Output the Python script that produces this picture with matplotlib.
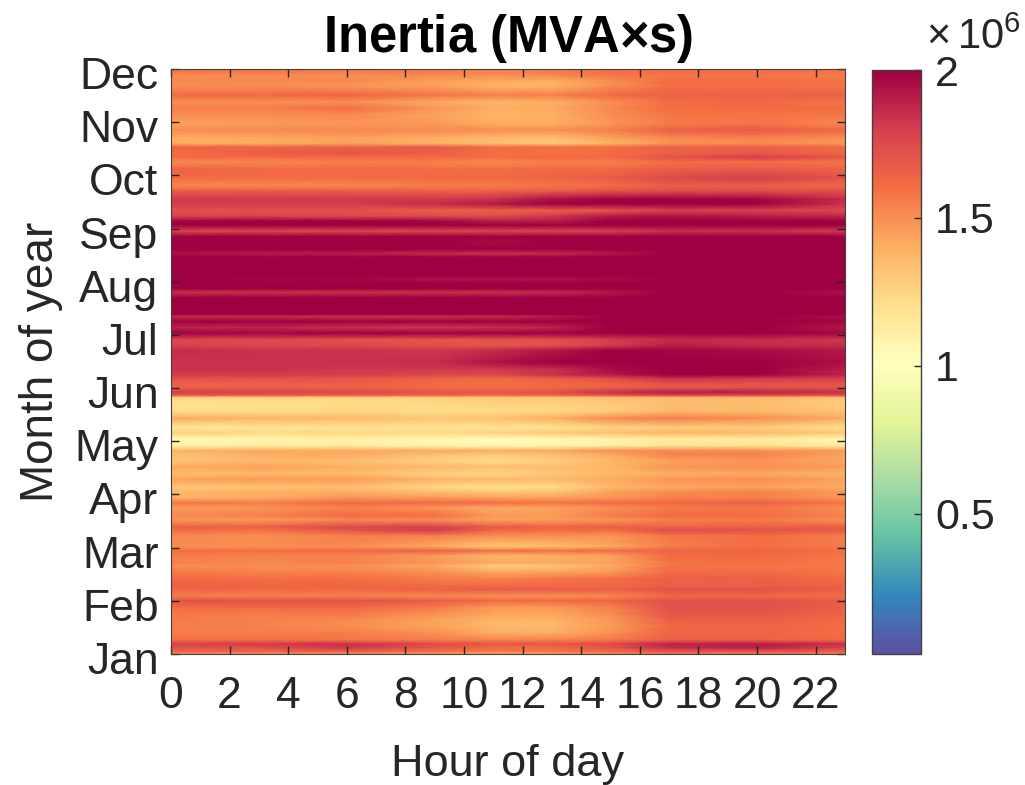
"""Daily inertia heat map, month of year against hour of day."""

import matplotlib
matplotlib.use("Agg")
import matplotlib.pyplot as plt
import matplotlib.transforms as mtransforms
import numpy as np

plt.rcParams["font.family"] = ["Liberation Sans", "DejaVu Sans"]
plt.rcParams["mathtext.fontset"] = "custom"
plt.rcParams["mathtext.rm"] = "Liberation Sans"
plt.rcParams["mathtext.bf"] = "Liberation Sans:bold"
plt.rcParams["mathtext.default"] = "regular"

TEXT = "#262626"
EDGE = "#404040"

MONTHS = ["Jan", "Feb", "Mar", "Apr", "May", "Jun", "Jul", "Aug", "Sep", "Oct", "Nov", "Dec"]
HOUR_TICKS = [0, 2, 4, 6, 8, 10, 12, 14, 16, 18, 20, 22]
CBAR_TICKS = [0.5, 1, 1.5, 2]
CBAR_LABELS = ["0.5", "1", "1.5", "2"]

HOURS = [0, 3, 6, 9, 11, 13, 15, 17, 20, 23]

# month position of each sampled row, top of the map first
ROW_MONTH = [
    12.00, 11.88, 11.77, 11.68, 11.51, 11.38, 11.26, 11.15, 10.98, 10.85,
    10.70, 10.60, 10.53, 10.42, 10.34, 10.25, 10.12, 9.95, 9.81, 9.70,
    9.55, 9.46, 9.34, 9.23, 9.14, 9.06, 8.95, 8.85, 8.74, 8.61,
    8.53, 8.46, 8.12, 8.04, 7.97, 7.87, 7.80, 7.70, 7.38, 7.35,
    7.25, 7.14, 7.03, 6.91, 6.80, 6.71, 6.48, 6.35, 6.25, 6.18,
    6.08, 6.01, 5.92, 5.86, 5.82, 5.75, 5.56, 5.43, 5.26, 5.16,
    5.05, 4.92, 4.82, 4.75, 4.63, 4.52, 4.39, 4.28, 4.14, 4.05,
    3.94, 3.84, 3.75, 3.60, 3.52, 3.39, 3.32, 3.22, 3.11, 3.02,
    2.94, 2.85, 2.71, 2.66, 2.53, 2.41, 2.28, 2.21, 2.09, 2.00,
    1.87, 1.77, 1.64, 1.51, 1.38, 1.26, 1.19, 1.11, 1.08, 1.04, 1.00,
]

# inertia in units of 1e6 MVA s, one row per ROW_MONTH entry, one column per HOURS entry
INERTIA = [
    [1.60, 1.60, 1.58, 1.58, 1.55, 1.57, 1.60, 1.62, 1.60, 1.60],
    [1.50, 1.52, 1.50, 1.52, 1.50, 1.52, 1.58, 1.58, 1.58, 1.55],
    [1.52, 1.52, 1.52, 1.45, 1.42, 1.40, 1.50, 1.60, 1.60, 1.58],
    [1.50, 1.50, 1.48, 1.45, 1.38, 1.38, 1.50, 1.60, 1.60, 1.58],
    [1.62, 1.62, 1.64, 1.58, 1.55, 1.55, 1.62, 1.66, 1.66, 1.66],
    [1.50, 1.50, 1.50, 1.42, 1.38, 1.40, 1.50, 1.60, 1.62, 1.58],
    [1.55, 1.55, 1.60, 1.48, 1.40, 1.42, 1.52, 1.60, 1.62, 1.60],
    [1.50, 1.50, 1.52, 1.44, 1.38, 1.40, 1.50, 1.58, 1.58, 1.58],
    [1.44, 1.46, 1.48, 1.46, 1.40, 1.40, 1.48, 1.56, 1.58, 1.52],
    [1.50, 1.52, 1.52, 1.52, 1.50, 1.50, 1.55, 1.66, 1.68, 1.62],
    [1.40, 1.42, 1.44, 1.40, 1.36, 1.34, 1.44, 1.52, 1.54, 1.50],
    [1.40, 1.40, 1.44, 1.38, 1.34, 1.28, 1.38, 1.48, 1.50, 1.46],
    [1.64, 1.64, 1.66, 1.68, 1.60, 1.60, 1.60, 1.66, 1.66, 1.62],
    [1.60, 1.66, 1.70, 1.66, 1.60, 1.58, 1.60, 1.64, 1.68, 1.62],
    [1.62, 1.62, 1.62, 1.62, 1.60, 1.62, 1.62, 1.72, 1.80, 1.70],
    [1.52, 1.52, 1.54, 1.54, 1.52, 1.54, 1.54, 1.60, 1.60, 1.58],
    [1.64, 1.62, 1.62, 1.60, 1.60, 1.62, 1.62, 1.66, 1.68, 1.64],
    [1.62, 1.62, 1.62, 1.62, 1.62, 1.64, 1.68, 1.76, 1.80, 1.72],
    [1.52, 1.52, 1.52, 1.56, 1.56, 1.58, 1.60, 1.66, 1.66, 1.62],
    [1.68, 1.68, 1.68, 1.66, 1.66, 1.68, 1.72, 1.74, 1.74, 1.72],
    [1.82, 1.82, 1.82, 1.82, 1.84, 1.95, 2.00, 2.00, 1.98, 1.86],
    [1.80, 1.80, 1.80, 1.86, 1.92, 2.00, 2.00, 2.00, 2.00, 1.84],
    [1.72, 1.72, 1.72, 1.66, 1.66, 1.66, 1.70, 1.78, 1.78, 1.75],
    [1.78, 1.78, 1.76, 1.76, 1.74, 1.82, 1.92, 1.94, 1.90, 1.88],
    [1.98, 2.00, 2.00, 1.98, 1.90, 1.90, 2.00, 2.00, 2.00, 2.00],
    [2.00, 2.00, 2.00, 2.00, 2.00, 2.00, 2.00, 2.00, 2.00, 2.00],
    [1.76, 1.76, 1.76, 1.76, 1.76, 1.76, 1.78, 1.84, 1.84, 1.80],
    [2.00, 2.00, 2.00, 2.00, 2.00, 2.00, 2.00, 2.00, 2.00, 2.00],
    [2.00, 2.00, 2.00, 2.00, 1.96, 2.00, 2.00, 2.00, 2.00, 2.00],
    [2.00, 2.00, 2.00, 2.00, 2.00, 2.00, 2.00, 2.00, 2.00, 2.00],
    [1.94, 1.90, 1.90, 1.86, 1.84, 1.86, 1.92, 2.00, 2.00, 2.00],
    [2.00, 2.00, 2.00, 2.00, 2.00, 2.00, 2.00, 2.00, 2.00, 2.00],
    [2.00, 2.00, 2.00, 2.00, 2.00, 2.00, 2.00, 2.00, 2.00, 2.00],
    [2.00, 1.98, 1.98, 1.94, 1.94, 1.94, 1.96, 2.00, 2.00, 2.00],
    [2.00, 2.00, 2.00, 2.00, 2.00, 2.00, 2.00, 2.00, 2.00, 2.00],
    [2.00, 2.00, 2.00, 2.00, 2.00, 2.00, 2.00, 2.00, 2.00, 2.00],
    [1.84, 1.84, 1.84, 1.84, 1.84, 1.86, 1.92, 2.00, 2.00, 1.94],
    [2.00, 2.00, 2.00, 2.00, 2.00, 2.00, 2.00, 2.00, 2.00, 2.00],
    [2.00, 2.00, 2.00, 2.00, 2.00, 2.00, 2.00, 2.00, 2.00, 2.00],
    [1.86, 1.86, 1.84, 1.84, 1.86, 1.90, 2.00, 2.00, 2.00, 1.95],
    [2.00, 2.00, 2.00, 2.00, 2.00, 2.00, 2.00, 2.00, 2.00, 1.98],
    [1.88, 1.88, 1.84, 1.82, 1.84, 1.88, 2.00, 2.00, 2.00, 1.92],
    [2.00, 1.98, 2.00, 2.00, 2.00, 2.00, 2.00, 2.00, 2.00, 1.98],
    [1.76, 1.76, 1.72, 1.70, 1.70, 1.72, 1.80, 1.86, 1.86, 1.82],
    [1.78, 1.76, 1.76, 1.72, 1.70, 1.72, 1.80, 1.90, 1.86, 1.86],
    [1.86, 1.84, 1.84, 1.82, 1.86, 1.92, 2.00, 1.98, 1.96, 1.92],
    [1.84, 1.84, 1.84, 1.86, 1.94, 2.00, 2.00, 2.00, 2.00, 1.95],
    [1.84, 1.84, 1.82, 1.82, 1.82, 1.84, 1.96, 2.00, 2.00, 1.90],
    [1.80, 1.80, 1.80, 1.76, 1.76, 1.84, 1.92, 2.00, 2.00, 1.88],
    [1.72, 1.72, 1.70, 1.64, 1.62, 1.66, 1.74, 1.84, 1.82, 1.80],
    [1.66, 1.66, 1.66, 1.62, 1.60, 1.62, 1.64, 1.72, 1.70, 1.70],
    [1.66, 1.66, 1.66, 1.60, 1.60, 1.62, 1.66, 1.68, 1.70, 1.70],
    [1.80, 1.78, 1.76, 1.72, 1.70, 1.72, 1.84, 1.92, 1.90, 1.84],
    [1.68, 1.68, 1.66, 1.64, 1.62, 1.64, 1.70, 1.76, 1.74, 1.72],
    [1.26, 1.26, 1.26, 1.28, 1.30, 1.30, 1.34, 1.38, 1.38, 1.34],
    [1.20, 1.22, 1.22, 1.24, 1.28, 1.28, 1.30, 1.34, 1.34, 1.28],
    [1.22, 1.22, 1.24, 1.22, 1.22, 1.24, 1.28, 1.36, 1.36, 1.32],
    [1.42, 1.38, 1.36, 1.32, 1.34, 1.40, 1.52, 1.56, 1.50, 1.42],
    [1.14, 1.16, 1.18, 1.18, 1.16, 1.18, 1.24, 1.28, 1.28, 1.20],
    [1.28, 1.24, 1.24, 1.24, 1.26, 1.30, 1.34, 1.38, 1.36, 1.30],
    [1.06, 1.08, 1.10, 1.08, 1.05, 1.06, 1.10, 1.14, 1.14, 1.08],
    [1.08, 1.12, 1.12, 1.06, 1.04, 1.06, 1.10, 1.16, 1.18, 1.12],
    [1.38, 1.42, 1.42, 1.42, 1.40, 1.42, 1.50, 1.52, 1.50, 1.46],
    [1.34, 1.40, 1.42, 1.34, 1.30, 1.34, 1.42, 1.54, 1.54, 1.44],
    [1.32, 1.36, 1.34, 1.26, 1.22, 1.28, 1.36, 1.44, 1.48, 1.42],
    [1.42, 1.44, 1.40, 1.36, 1.34, 1.34, 1.38, 1.48, 1.50, 1.46],
    [1.34, 1.36, 1.36, 1.26, 1.24, 1.30, 1.36, 1.40, 1.42, 1.38],
    [1.44, 1.46, 1.46, 1.38, 1.36, 1.36, 1.42, 1.48, 1.50, 1.44],
    [1.30, 1.32, 1.34, 1.24, 1.20, 1.22, 1.36, 1.42, 1.44, 1.40],
    [1.36, 1.40, 1.40, 1.34, 1.30, 1.32, 1.44, 1.50, 1.54, 1.46],
    [1.38, 1.40, 1.48, 1.46, 1.44, 1.44, 1.48, 1.54, 1.54, 1.48],
    [1.58, 1.56, 1.62, 1.62, 1.60, 1.58, 1.62, 1.62, 1.66, 1.58],
    [1.46, 1.48, 1.54, 1.48, 1.42, 1.44, 1.50, 1.56, 1.58, 1.50],
    [1.52, 1.54, 1.62, 1.60, 1.46, 1.46, 1.56, 1.62, 1.60, 1.54],
    [1.48, 1.46, 1.52, 1.50, 1.44, 1.46, 1.48, 1.54, 1.56, 1.50],
    [1.66, 1.66, 1.76, 1.78, 1.68, 1.64, 1.66, 1.64, 1.66, 1.66],
    [1.62, 1.58, 1.70, 1.80, 1.62, 1.60, 1.60, 1.74, 1.72, 1.68],
    [1.52, 1.50, 1.54, 1.54, 1.50, 1.50, 1.48, 1.58, 1.60, 1.56],
    [1.52, 1.50, 1.54, 1.48, 1.40, 1.42, 1.46, 1.56, 1.60, 1.56],
    [1.50, 1.50, 1.50, 1.42, 1.30, 1.34, 1.42, 1.56, 1.60, 1.56],
    [1.60, 1.60, 1.62, 1.66, 1.60, 1.60, 1.62, 1.64, 1.64, 1.60],
    [1.56, 1.54, 1.54, 1.46, 1.38, 1.40, 1.44, 1.62, 1.62, 1.58],
    [1.54, 1.52, 1.54, 1.48, 1.42, 1.42, 1.44, 1.58, 1.60, 1.56],
    [1.50, 1.50, 1.50, 1.42, 1.28, 1.32, 1.42, 1.58, 1.58, 1.56],
    [1.58, 1.54, 1.54, 1.50, 1.44, 1.44, 1.48, 1.62, 1.62, 1.58],
    [1.62, 1.60, 1.60, 1.56, 1.54, 1.58, 1.60, 1.66, 1.66, 1.62],
    [1.66, 1.64, 1.64, 1.62, 1.62, 1.62, 1.62, 1.66, 1.66, 1.64],
    [1.64, 1.62, 1.62, 1.66, 1.68, 1.68, 1.66, 1.72, 1.72, 1.66],
    [1.56, 1.54, 1.54, 1.52, 1.50, 1.50, 1.52, 1.62, 1.62, 1.60],
    [1.72, 1.72, 1.72, 1.68, 1.62, 1.62, 1.64, 1.72, 1.72, 1.68],
    [1.60, 1.62, 1.62, 1.56, 1.46, 1.46, 1.54, 1.72, 1.72, 1.66],
    [1.58, 1.56, 1.58, 1.50, 1.44, 1.44, 1.52, 1.70, 1.70, 1.64],
    [1.56, 1.54, 1.52, 1.44, 1.38, 1.38, 1.48, 1.66, 1.66, 1.62],
    [1.56, 1.54, 1.50, 1.44, 1.36, 1.36, 1.46, 1.62, 1.64, 1.60],
    [1.56, 1.56, 1.56, 1.50, 1.42, 1.42, 1.50, 1.64, 1.64, 1.60],
    [1.60, 1.60, 1.58, 1.56, 1.54, 1.54, 1.58, 1.66, 1.66, 1.62],
    [1.78, 1.80, 1.84, 1.74, 1.70, 1.70, 1.74, 1.88, 1.90, 1.84],
    [1.72, 1.72, 1.82, 1.68, 1.60, 1.60, 1.70, 1.86, 1.90, 1.76],
    [1.68, 1.68, 1.74, 1.64, 1.60, 1.60, 1.66, 1.78, 1.80, 1.72],
    [1.64, 1.64, 1.66, 1.60, 1.56, 1.58, 1.62, 1.70, 1.70, 1.66],
    [1.48, 1.46, 1.46, 1.44, 1.40, 1.42, 1.50, 1.56, 1.56, 1.54],
]

WIDTH, HEIGHT = 1025, 785


def px_axes(fig, left, top, right, bottom):
    return fig.add_axes([left / WIDTH, 1 - bottom / HEIGHT,
                         (right - left) / WIDTH, (bottom - top) / HEIGHT])


fig = plt.figure(figsize=(WIDTH / 100, HEIGHT / 100), dpi=100)
ax = px_axes(fig, 171, 69, 845, 654)
cax = px_axes(fig, 872, 70, 921, 654)

mesh = ax.pcolormesh(HOURS, ROW_MONTH, np.array(INERTIA), shading="gouraud",
                     cmap="Spectral_r", vmin=0.025, vmax=2.0)
ax.set_xlim(0, 23)
ax.set_ylim(1, 12)
ax.set_xticks(HOUR_TICKS)
ax.set_yticks(range(1, 13), MONTHS)
ax.tick_params(direction="in", length=6, width=1, top=True, right=True, colors=TEXT,
               labelsize=32)
ax.tick_params(axis="x", pad=16)
ax.tick_params(axis="y", pad=9)
# month labels sit a few pixels below their ticks in the original
shift = mtransforms.ScaledTranslation(0, -4 / 100, fig.dpi_scale_trans)
for label in ax.get_yticklabels():
    label.set_transform(label.get_transform() + shift)
ax.set_title(r"Inertia (MVA$\times$s)", fontsize=36.5, fontweight="bold", color="black", pad=12)
ax.set_xlabel("Hour of day", fontsize=32.5, color=TEXT, labelpad=19)
ax.set_ylabel("Month of year", fontsize=33, color=TEXT, labelpad=8)
for spine in ax.spines.values():
    spine.set_color(EDGE)

cbar = fig.colorbar(mesh, cax=cax)
cbar.set_ticks(CBAR_TICKS, labels=CBAR_LABELS)
cbar.ax.tick_params(direction="in", length=5, width=1, colors=TEXT, labelsize=31, pad=10)
cbar.outline.set_edgecolor(EDGE)
cbar.outline.set_linewidth(1)
fig.text(926 / WIDTH, 1 - 49 / HEIGHT, r"$\times\,$10$^{6}$", fontsize=30, color=TEXT,
         va="baseline", ha="left")

fig.savefig("out.png", dpi=100)
